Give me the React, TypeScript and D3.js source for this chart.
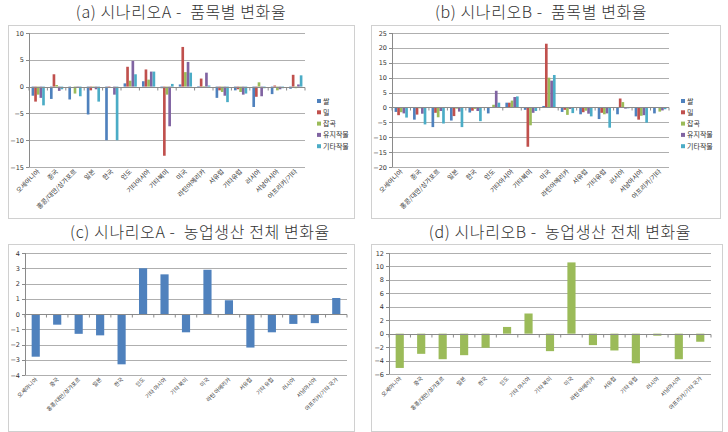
import { useEffect, useRef } from "react";
import * as d3 from "d3";

// 품목별 (a), (b) 패널의 지역 이름
const regionsItem = [
  "오세아니아", "중국", "홍콩/대만/싱가포르", "일본", "한국", "인도", "기타아시아",
  "기타북미", "미국", "라틴아메리카", "서유럽", "기타유럽", "러시아", "서남아시아", "아프리카/기타",
];
// 전체 (c), (d) 패널의 지역 이름
const regionsTotal = [
  "오세아니아", "중국", "홍콩/대만/싱가포르", "일본", "한국", "인도", "기타 아시아",
  "기타 북미", "미국", "라틴 아메리카", "서유럽", "기타 유럽", "러시아", "서남아시아", "아프리카/기타 국가",
];

const crops = ["쌀", "밀", "잡곡", "유지작물", "기타작물"];
const cropColors = ["#4F81BD", "#C0504D", "#9BBB59", "#8064A2", "#4BACC6"];

// 시나리오 A 품목별
const riceA = [-1.7, -2.3, -2.4, -5.2, -10, 0.6, 1.0, -0.3, 0.4, 0.1, -2.1, -0.7, -3.8, -1.4, -0.4];
const wheatA = [-2.8, 2.3, 0.0, -0.7, -0.1, 3.7, 3.2, -12.9, 7.4, 1.5, -0.7, -0.5, -1.9, 0.2, 2.2];
const grainA = [-1.5, 0.3, -1.3, -0.2, 0.0, 1.1, 1.3, -1.5, 2.7, 0.1, -1.0, -1.0, 0.8, -0.7, -0.3];
const oilA = [-2.1, -0.8, -0.2, -0.5, -1.5, 4.8, 2.8, -7.4, 4.6, 2.6, -1.7, -1.5, -1.8, -0.5, 0.4];
const otherA = [-3.5, -0.5, -1.8, -2.8, -10, 2.3, 2.8, 0.5, 2.6, 0.2, -2.9, -1.3, -0.3, -0.3, 2.1];

// 시나리오 B 품목별
const riceB = [-1.5, -4.1, -6.6, -4.4, -1.7, -2.0, 1.6, -0.8, 0.5, -1.5, -2.3, -3.9, -2.3, -3.0, -2.0];
const wheatB = [-2.6, -2.4, -1.8, -2.9, -1.1, 0.1, 1.6, -13.2, 21.4, -0.8, -1.6, -1.8, 3.0, -4.1, -0.1];
const grainB = [-1.6, -0.3, -3.3, -0.4, -0.5, 0.9, 2.3, -6.0, 10.0, -2.5, -1.1, -2.3, 1.8, -2.8, -1.4];
const oilB = [-2.0, -2.1, -1.2, -1.4, -1.2, 5.6, 3.5, -1.8, 9.0, -0.5, -2.1, -2.0, -0.4, -2.6, -1.0];
const otherB = [-3.4, -5.7, -5.4, -6.6, -4.6, 1.6, 3.7, -1.2, 10.9, -1.9, -3.0, -6.8, -0.3, -5.1, -0.6];

// 농업생산 전체
const totalA = [-2.8, -0.7, -1.3, -1.4, -3.3, 3.0, 2.6, -1.2, 2.9, 0.9, -2.2, -1.2, -0.65, -0.6, 1.05];
const totalB = [-5.1, -3.0, -3.8, -3.2, -2.1, 1.0, 3.0, -2.6, 10.6, -1.7, -2.5, -4.4, -0.3, -3.8, -1.2];

interface Panel {
  title: string;
  titleX: number;
  titleY: number;
  box: [number, number, number, number];
  plot: [number, number, number, number]; // x0, x1, yTop, yBottom
  domain: [number, number];
  step: number;
  labels: string[];
  series: number[][];
  colors: string[];
  legend: boolean;
  barFrac: number;
  labelSize: number;
}

const panels: Panel[] = [
  {
    title: "(a) 시나리오A -  품목별 변화율",
    titleX: 181, titleY: 18,
    box: [8, 25, 346, 193],
    plot: [29, 305, 33, 167],
    domain: [-15, 10], step: 5,
    labels: regionsItem,
    series: [riceA, wheatA, grainA, oilA, otherA],
    colors: cropColors, legend: true, barFrac: 0.72, labelSize: 6.5,
  },
  {
    title: "(b) 시나리오B -  품목별 변화율",
    titleX: 541, titleY: 18,
    box: [371, 25, 349, 193],
    plot: [392, 669, 33, 167],
    domain: [-20, 25], step: 5,
    labels: regionsItem,
    series: [riceB, wheatB, grainB, oilB, otherB],
    colors: cropColors, legend: true, barFrac: 0.72, labelSize: 6.5,
  },
  {
    title: "(c) 시나리오A -  농업생산 전체 변화율",
    titleX: 200, titleY: 238,
    box: [8, 244, 346, 187],
    plot: [25, 347, 253, 375],
    domain: [-4, 4], step: 1,
    labels: regionsTotal,
    series: [totalA],
    colors: ["#4F81BD"], legend: false, barFrac: 0.38, labelSize: 5.5,
  },
  {
    title: "(d) 시나리오B -  농업생산 전체 변화율",
    titleX: 560, titleY: 238,
    box: [371, 244, 351, 187],
    plot: [389, 711, 253, 374],
    domain: [-6, 12], step: 2,
    labels: regionsTotal,
    series: [totalB],
    colors: ["#9BBB59"], legend: false, barFrac: 0.38, labelSize: 5.5,
  },
];

const App = () => {
  const svgRef = useRef<SVGSVGElement>(null);

  useEffect(() => {
    if (!svgRef.current) return;
    const svg = d3.select(svgRef.current);
    svg.selectAll("*").remove();

    svg.append("rect").attr("width", 728).attr("height", 432).attr("fill", "#fff");

    panels.forEach((p) => {
      const g = svg.append("g");
      const [bx, by, bw, bh] = p.box;
      const [x0, x1, yTop, yBot] = p.plot;

      // 제목
      g.append("text")
        .attr("x", p.titleX)
        .attr("y", p.titleY)
        .attr("text-anchor", "middle")
        .style("font-family", "'Noto Sans CJK KR', 'DejaVu Serif', serif")
        .style("font-size", "16px")
        .style("font-weight", "300")
        .style("letter-spacing", "0.6px")
        .style("white-space", "pre")
        .attr("fill", "#333")
        .text(p.title);

      // 차트 테두리
      g.append("rect")
        .attr("x", bx + 0.5)
        .attr("y", by + 0.5)
        .attr("width", bw)
        .attr("height", bh)
        .attr("fill", "#fff")
        .attr("stroke", "#d0d0d0");

      const y = d3.scaleLinear().domain(p.domain).range([yBot, yTop]);
      const x = d3.scaleBand<string>().domain(p.labels).range([x0, x1]).padding(0);
      const bw0 = x.bandwidth();
      const inner = d3
        .scaleBand<number>()
        .domain(d3.range(p.series.length))
        .range([(bw0 * (1 - p.barFrac)) / 2, (bw0 * (1 + p.barFrac)) / 2]);

      const ticks = d3.range(p.domain[0], p.domain[1] + 0.001, p.step);

      // 격자선
      g.append("g")
        .selectAll("line")
        .data(ticks)
        .join("line")
        .attr("x1", x0)
        .attr("x2", x1)
        .attr("y1", (d) => Math.round(y(d)) + 0.5)
        .attr("y2", (d) => Math.round(y(d)) + 0.5)
        .attr("stroke", "#9a9a9a")
        .attr("stroke-width", 0.8);

      // y축
      g.append("line")
        .attr("x1", x0 + 0.5).attr("x2", x0 + 0.5)
        .attr("y1", yTop).attr("y2", yBot)
        .attr("stroke", "#8a8a8a");
      g.append("g")
        .selectAll("line")
        .data(ticks)
        .join("line")
        .attr("x1", x0 - 3).attr("x2", x0)
        .attr("y1", (d) => Math.round(y(d)) + 0.5)
        .attr("y2", (d) => Math.round(y(d)) + 0.5)
        .attr("stroke", "#8a8a8a");
      g.append("g")
        .selectAll("text")
        .data(ticks)
        .join("text")
        .attr("x", x0 - 5)
        .attr("y", (d) => y(d) + 2.5)
        .attr("text-anchor", "end")
        .style("font-family", "'DejaVu Sans', sans-serif")
        .style("font-size", "6.5px")
        .attr("fill", "#333")
        .text((d) => d3.format("d")(d));

      // 막대
      p.series.forEach((vals, si) => {
        g.append("g")
          .selectAll("rect")
          .data(vals)
          .join("rect")
          .attr("x", (_, i) => (x(p.labels[i]) as number) + (inner(si) as number))
          .attr("width", inner.bandwidth())
          .attr("y", (d) => y(Math.max(0, d)))
          .attr("height", (d) => Math.abs(y(d) - y(0)))
          .attr("fill", p.colors[si]);
      });

      // 0 기준선과 눈금
      const y0 = Math.round(y(0)) + 0.5;
      g.append("line")
        .attr("x1", x0).attr("x2", x1)
        .attr("y1", y0).attr("y2", y0)
        .attr("stroke", "#8a8a8a");
      g.append("g")
        .selectAll("line")
        .data(d3.range(p.labels.length + 1))
        .join("line")
        .attr("x1", (i) => x0 + i * bw0)
        .attr("x2", (i) => x0 + i * bw0)
        .attr("y1", y0)
        .attr("y2", y0 + 3)
        .attr("stroke", "#8a8a8a");

      // 범주 라벨 (45도)
      g.append("g")
        .selectAll("text")
        .data(p.labels)
        .join("text")
        .attr("transform", (d) => `translate(${(x(d) as number) + bw0 / 2 + 2},${yBot + 5}) rotate(-45)`)
        .attr("text-anchor", "end")
        .style("font-family", "'Noto Sans CJK KR', sans-serif")
        .style("font-size", `${p.labelSize}px`)
        .attr("fill", "#333")
        .text((d) => d);

      // 범례
      if (p.legend) {
        const lg = g.append("g").attr("transform", `translate(${x1 + 12},101)`);
        crops.forEach((c, i) => {
          lg.append("rect")
            .attr("x", 0)
            .attr("y", i * 11.3 - 2)
            .attr("width", 4)
            .attr("height", 4)
            .attr("fill", cropColors[i]);
          lg.append("text")
            .attr("x", 6)
            .attr("y", i * 11.3 + 2.5)
            .style("font-family", "'Noto Sans CJK KR', sans-serif")
            .style("font-size", "7px")
            .attr("fill", "#333")
            .text(c);
        });
      }
    });
  }, []);

  return (
    <div style={{ position: "absolute", left: 0, top: 0 }}>
      <svg ref={svgRef} width={728} height={432} style={{ display: "block" }}></svg>
    </div>
  );
};

export default App;
